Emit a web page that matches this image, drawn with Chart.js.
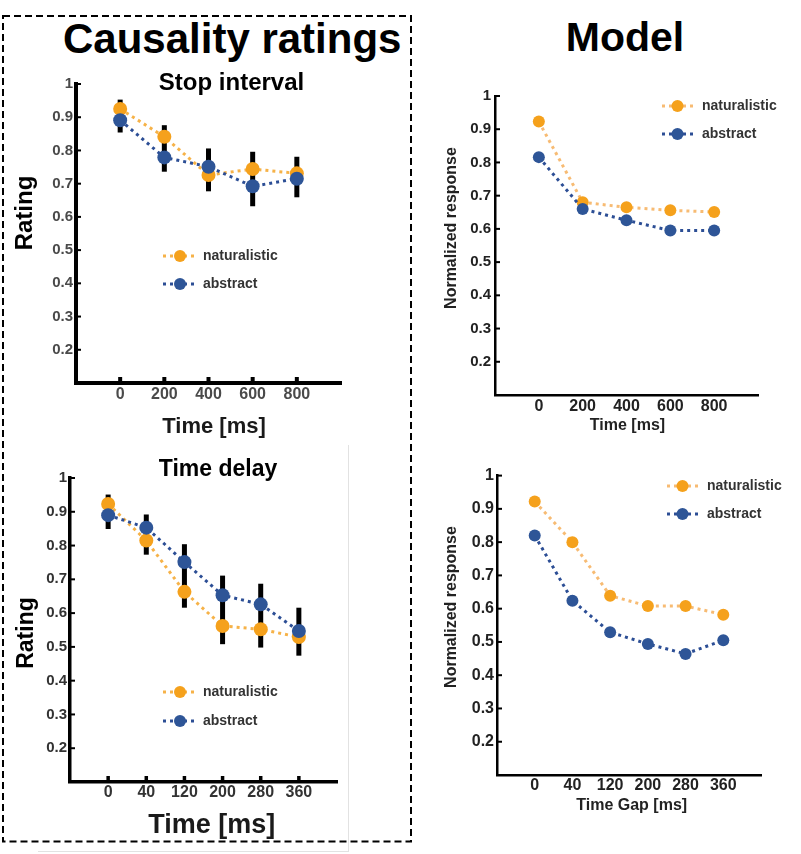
<!DOCTYPE html>
<html><head><meta charset="utf-8">
<script src="https://cdn.jsdelivr.net/npm/chart.js@4.4.1/dist/chart.umd.min.js"></script>
<style>
html,body{margin:0;padding:0;background:#fff;}
#wrap{position:relative;width:801px;height:854px;overflow:hidden;font-family:'Liberation Sans',Arial,sans-serif;font-weight:bold;color:#000;background:#fff;}
canvas{position:absolute;}
.t{position:absolute;white-space:nowrap;line-height:1;z-index:5;}
.c{transform:translateX(-50%);}
.r{transform:translate(-50%,-50%) rotate(-90deg);}
</style></head><body>
<div id="wrap">
<svg width="801" height="854" style="position:absolute;left:0;top:0;z-index:1">
  <rect x="3" y="16" width="408" height="825.5" fill="none" stroke="#000" stroke-width="2" stroke-dasharray="7 4"/>
  <line x1="348.5" y1="445" x2="348.5" y2="852" stroke="#e2e2e2" stroke-width="1"/>
  <line x1="38" y1="851.5" x2="348" y2="851.5" stroke="#e2e2e2" stroke-width="1"/>
</svg>
<div class="t" style="left:63px;top:17.5px;font-size:42px;">Causality ratings</div>
<div class="t c" style="left:625px;top:17px;font-size:41px;">Model</div>
<div class="t c" style="left:231.5px;top:69.7px;font-size:24px;">Stop interval</div>
<div class="t c" style="left:218px;top:457px;font-size:23px;">Time delay</div>
<div class="t r" style="left:24px;top:212.5px;font-size:24px;">Rating</div>
<div class="t c" style="left:214px;top:414.5px;font-size:22px;color:#1a1a1a;">Time [ms]</div>
<div class="t r" style="left:451px;top:227.7px;font-size:16px;color:#222;">Normalized response</div>
<div class="t c" style="left:627.5px;top:417px;font-size:16px;color:#222;">Time [ms]</div>
<div class="t r" style="left:25px;top:632.5px;font-size:23px;">Rating</div>
<div class="t c" style="left:211.7px;top:811px;font-size:27px;color:#1a1a1a;">Time [ms]</div>
<div class="t r" style="left:451px;top:607px;font-size:16px;color:#222;">Normalized response</div>
<div class="t c" style="left:631.7px;top:797px;font-size:16px;color:#222;">Time Gap [ms]</div>
<canvas id="p1" width="320" height="341" style="left:31px;top:72px;z-index:2"></canvas>
<canvas id="p2" width="345" height="342" style="left:450px;top:83px;z-index:2"></canvas>
<canvas id="p3" width="322" height="346" style="left:25px;top:466px;z-index:2"></canvas>
<canvas id="p4" width="345" height="342" style="left:452px;top:463px;z-index:2"></canvas>
</div>
<script>
// ---- data ----
const seriesNames = ['naturalistic', 'abstract'];
const stopTimes = [0, 200, 400, 600, 800];
const stopRatingNat = [0.925, 0.841, 0.726, 0.744, 0.731];
const stopRatingAbs = [0.891, 0.779, 0.751, 0.692, 0.715];
const stopErrLow  = [0.854, 0.736, 0.677, 0.632, 0.659];
const stopErrHigh = [0.953, 0.876, 0.806, 0.796, 0.781];
const stopModelNat = [0.923, 0.680, 0.665, 0.656, 0.651];
const stopModelAbs = [0.816, 0.660, 0.626, 0.595, 0.595];
const delayLabels = ['0', '40', '120', '200', '280', '360'];
const delayRatingNat = [0.923, 0.815, 0.663, 0.562, 0.552, 0.529];
const delayRatingAbs = [0.890, 0.853, 0.751, 0.653, 0.626, 0.547];
const delayErrLow  = [0.849, 0.773, 0.616, 0.508, 0.498, 0.474];
const delayErrHigh = [0.951, 0.892, 0.804, 0.711, 0.687, 0.616];
const delayModelNat = [0.922, 0.800, 0.639, 0.608, 0.608, 0.582];
const delayModelAbs = [0.820, 0.624, 0.529, 0.494, 0.464, 0.505];

// ---- styles ----
const NAT_PT = '#F5A11C', NAT_LINE = 'rgba(245,165,40,0.85)', NAT_LINE_MODEL = 'rgba(245,170,80,0.8)';
const ABS_PT = '#2E5597', ABS_LINE = '#2C4E95';
const FAMILY = "'Liberation Sans', Arial, sans-serif";

const errorBars = {
  id: 'errorBars',
  beforeDatasetsDraw(chart, args, o) {
    if (!o.lo) return;
    const {ctx, scales: {x, y}} = chart;
    ctx.save();
    ctx.strokeStyle = '#000'; ctx.lineWidth = o.width || 5; ctx.lineCap = 'butt';
    o.xs.forEach((xv, i) => {
      const px = x.getPixelForValue(xv);
      ctx.beginPath();
      ctx.moveTo(px, y.getPixelForValue(o.lo[i]));
      ctx.lineTo(px, y.getPixelForValue(o.hi[i]));
      ctx.stroke();
    });
    ctx.restore();
  }
};
const axisMarks = {
  id: 'axisMarks',
  afterDatasetsDraw(chart, args, o) {
    const {ctx, scales: {x, y}, chartArea} = chart;
    ctx.save();
    ctx.strokeStyle = '#000';
    ctx.lineWidth = o.yWidth;
    y.ticks.forEach(t => {
      if (t.value < 0.15) return;
      const py = y.getPixelForValue(t.value);
      ctx.beginPath(); ctx.moveTo(chartArea.left, py); ctx.lineTo(chartArea.left + o.yLen, py); ctx.stroke();
    });
    if (o.xLen) {
      ctx.lineWidth = o.xWidth;
      o.xs.forEach(xv => {
        const px = x.getPixelForValue(xv);
        ctx.beginPath(); ctx.moveTo(px, chartArea.bottom); ctx.lineTo(px, chartArea.bottom - o.xLen); ctx.stroke();
      });
    }
    ctx.restore();
  }
};
const insideLegend = {
  id: 'insideLegend',
  afterDraw(chart, args, o) {
    const ctx = chart.ctx;
    chart.data.datasets.forEach((ds, i) => {
      const y = o.ys[i], x0 = o.x, x1 = o.x + o.len;
      ctx.save();
      ctx.strokeStyle = ds.borderColor; ctx.lineWidth = 3; ctx.setLineDash([3, 4]);
      ctx.beginPath(); ctx.moveTo(x0, y); ctx.lineTo(x1, y); ctx.stroke();
      ctx.setLineDash([]);
      ctx.fillStyle = ds.pointBackgroundColor;
      ctx.beginPath(); ctx.arc((x0 + x1) / 2, y, o.r, 0, Math.PI * 2); ctx.fill();
      ctx.fillStyle = '#333'; ctx.font = 'bold 14px ' + FAMILY;
      ctx.textBaseline = 'middle'; ctx.textAlign = 'left';
      ctx.fillText(ds.label, o.tx, y);
      ctx.restore();
    });
  }
};

function yLabel(v) {
  const r = Math.round(v * 10) / 10;
  if (r < 0.15) return '';
  return r === 1 ? '1' : r.toFixed(1);
}

function makePanel(p) {
  const font = (s) => ({family: FAMILY, weight: 'bold', size: s});
  const mk = (name, vals, pt, line, order) => ({
    label: name,
    data: p.xs.map((xv, i) => ({x: xv, y: vals[i]})),
    borderColor: line, backgroundColor: pt,
    pointBackgroundColor: pt, pointBorderColor: pt, pointBorderWidth: 0,
    pointRadius: p.r, borderWidth: 3, borderDash: [3, 4], tension: 0, order: order
  });
  new Chart(document.getElementById(p.id), {
    type: 'line',
    data: {datasets: [mk(seriesNames[0], p.nat, NAT_PT, p.natLine, 2), mk(seriesNames[1], p.abs, ABS_PT, ABS_LINE, 1)]},
    options: {
      responsive: false, animation: false, events: [],
      layout: {padding: {left: 0, top: 10, right: p.padR, bottom: 0}},
      scales: {
        x: {
          type: 'linear', min: p.xMin, max: p.xMax,
          afterFit: s => { s.height = 30; },
          ticks: {stepSize: p.xStep, autoSkip: false, maxRotation: 0, padding: p.xPad, font: font(p.xFont), color: p.tickColor, callback: p.xCb},
          grid: {display: false, drawTicks: false},
          border: {display: true, color: '#000', width: p.axisW}
        },
        y: {
          min: 0.1, max: 1,
          afterFit: s => { s.width = 45; },
          ticks: {stepSize: 0.1, autoSkip: false, padding: p.yPad, font: font(p.yFont), color: p.tickColor, callback: yLabel},
          grid: {display: false, drawTicks: false},
          border: {display: true, color: '#000', width: p.axisW}
        }
      },
      plugins: {
        legend: {display: false}, tooltip: {enabled: false},
        errorBars: p.err ? {xs: p.xs, lo: p.err[0], hi: p.err[1], width: 5} : {},
        axisMarks: {yLen: 5, yWidth: 2, xLen: p.xMark, xWidth: p.axisW, xs: p.xs},
        insideLegend: {x: p.leg.x - p.cl, len: p.leg.len, tx: p.leg.tx - p.cl, ys: p.leg.ys.map(v => v - p.ct), r: 6}
      }
    },
    plugins: [errorBars, axisMarks, insideLegend]
  });
}

const stopCb = v => (v < 0 || v > 800) ? '' : String(v);
const delayIdx = delayLabels.map((l, i) => i);
const delayCb = v => (delayLabels[v] !== undefined ? delayLabels[v] : '');

makePanel({id: 'p1', cl: 31, ct: 72, padR: 10, xs: stopTimes, nat: stopRatingNat, abs: stopRatingAbs, err: [stopErrLow, stopErrHigh], natLine: NAT_LINE,
  xMin: -200, xMax: 1000, xStep: 200, xCb: stopCb, r: 7, axisW: 4, tickColor: '#4a4a4a', xFont: 16, yFont: 15, xPad: 2, yPad: 3, xMark: 6,
  leg: {x: 163, len: 34, tx: 203, ys: [256, 284]}});
makePanel({id: 'p2', cl: 450, ct: 83, padR: 37, xs: stopTimes, nat: stopModelNat, abs: stopModelAbs, err: null, natLine: NAT_LINE_MODEL,
  xMin: -200, xMax: 1000, xStep: 200, xCb: stopCb, r: 6, axisW: 2.5, tickColor: '#222', xFont: 16, yFont: 15, xPad: 2, yPad: 4, xMark: 0,
  leg: {x: 662, len: 31, tx: 702, ys: [106, 134]}});
makePanel({id: 'p3', cl: 25, ct: 466, padR: 10, xs: delayIdx, nat: delayRatingNat, abs: delayRatingAbs, err: [delayErrLow, delayErrHigh], natLine: NAT_LINE,
  xMin: -1, xMax: 6, xStep: 1, xCb: delayCb, r: 7, axisW: 3.5, tickColor: '#333', xFont: 16, yFont: 15, xPad: 1, yPad: 3, xMark: 6,
  leg: {x: 163, len: 34, tx: 203, ys: [692, 721]}});
makePanel({id: 'p4', cl: 452, ct: 463, padR: 36, xs: delayIdx, nat: delayModelNat, abs: delayModelAbs, err: null, natLine: NAT_LINE_MODEL,
  xMin: -1, xMax: 6, xStep: 1, xCb: delayCb, r: 6, axisW: 2.5, tickColor: '#222', xFont: 16, yFont: 16, xPad: 1, yPad: 3, xMark: 0,
  leg: {x: 667, len: 31, tx: 707, ys: [486, 514]}});
</script>
</body></html>
